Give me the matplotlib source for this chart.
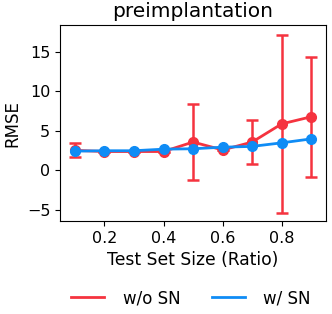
import numpy as np
import matplotlib.pyplot as plt

ratios = [0.1, 0.2, 0.3, 0.4, 0.5, 0.6, 0.7, 0.8, 0.9]
rmse_wo = [2.55, 2.4, 2.4, 2.4, 3.6, 2.6, 3.6, 5.9, 6.8]
err_wo = [0.9, 0.0, 0.0, 0.0, 4.8, 0.0, 2.75, 11.3, 7.6]
rmse_w = [2.45, 2.5, 2.5, 2.7, 2.75, 2.95, 3.05, 3.5, 4.0]

red = '#f5333f'
blue = '#0f8cf5'

fig = plt.figure(figsize=(3.32, 3.14), dpi=100)
ax = fig.add_axes([0.181, 0.296, 0.801, 0.624])

ax.errorbar(ratios, rmse_wo, yerr=err_wo, color=red, marker='o', markersize=7,
            linewidth=2, capsize=4.5, elinewidth=1.8, capthick=1.8, label='w/o SN', zorder=2)
ax.plot(ratios, rmse_w, color=blue, marker='o', markersize=7, linewidth=2, label='w/ SN', zorder=3)

ax.set_xlim(0.05, 0.95)
ax.set_ylim(-6.4, 18.4)
ax.set_xticks([0.2, 0.4, 0.6, 0.8])
ax.set_yticks([-5, 0, 5, 10, 15])
ax.tick_params(labelsize=11.5)
ax.set_xlabel('Test Set Size (Ratio)', fontsize=12.3)
ax.set_ylabel('RMSE', fontsize=12)
ax.set_title('preimplantation', fontsize=14.5)

h1 = plt.Line2D([], [], color=red, linewidth=2)
h2 = plt.Line2D([], [], color=blue, linewidth=2)
fig.legend([h1, h2], ['w/o SN', 'w/ SN'], loc='center', bbox_to_anchor=(0.575, 0.05),
           ncol=2, frameon=False, fontsize=12, columnspacing=1.9, handletextpad=1.1)

fig.savefig('out.png', dpi=100)
